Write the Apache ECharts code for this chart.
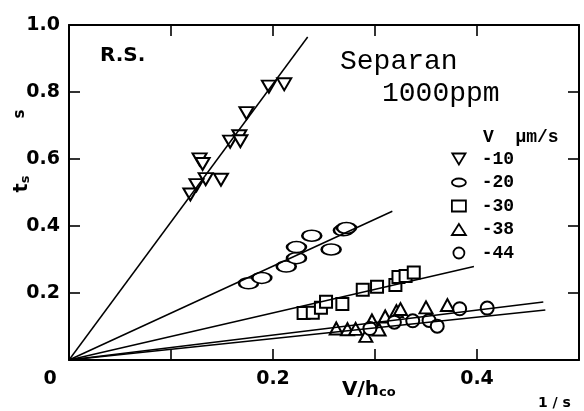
<!DOCTYPE html>
<html>
<head>
<meta charset="utf-8">
<script src="https://cdn.jsdelivr.net/npm/echarts@6/dist/echarts.min.js"></script>
<style>
  html, body { margin: 0; padding: 0; background: #fff; }
  #chart { width: 584px; height: 411px; }
</style>
</head>
<body>
<div id="chart"></div>
<script>
// values (V/h_co in 1/s, t_s in s)
const seriesNames = ['-10', '-20', '-30', '-38', '-44'];

const v10X = [0.196, 0.211, 0.174, 0.167, 0.158, 0.168, 0.128, 0.131, 0.134, 0.149, 0.125, 0.119];
const v10Y = [0.816, 0.823, 0.737, 0.668, 0.652, 0.653, 0.599, 0.585, 0.540, 0.538, 0.522, 0.494];

const v20X = [0.176, 0.189, 0.213, 0.223, 0.223, 0.238, 0.257, 0.269, 0.272];
const v20Y = [0.229, 0.245, 0.279, 0.304, 0.337, 0.371, 0.330, 0.387, 0.394];

const v30X = [0.230, 0.239, 0.247, 0.252, 0.268, 0.288, 0.302, 0.320, 0.323, 0.330, 0.338];
const v30Y = [0.140, 0.141, 0.156, 0.174, 0.167, 0.210, 0.219, 0.224, 0.248, 0.251, 0.261];

const v38X = [0.262, 0.273, 0.281, 0.291, 0.297, 0.304, 0.310, 0.321, 0.325, 0.350, 0.371];
const v38Y = [0.094, 0.092, 0.093, 0.072, 0.118, 0.091, 0.130, 0.146, 0.152, 0.157, 0.164];

const v44X = [0.295, 0.319, 0.337, 0.353, 0.361, 0.383, 0.410];
const v44Y = [0.094, 0.113, 0.117, 0.118, 0.101, 0.153, 0.155];

// fitted lines, all drawn from the origin to these end points
const fitEndX = [0.234, 0.317, 0.397, 0.465, 0.467];
const fitEndY = [0.964, 0.444, 0.279, 0.173, 0.149];

const xTicks = [0, 0.1, 0.2, 0.3, 0.4, 0.5];
const xLabels = ['0', '', '0.2', '', '0.4', ''];
const yLabels = ['', '0.2', '0.4', '0.6', '0.8', '1.0'];

const pointsX = [v10X, v20X, v30X, v38X, v44X];
const pointsY = [v10Y, v20Y, v30Y, v38Y, v44Y];

const downTri = 'path://M0,0L12,0L6,10Z';
const ellipse = 'path://M0,4A7,4,0,1,0,14,4A7,4,0,1,0,0,4Z';
const symbols = [downTri, 'circle', 'rect', 'triangle', 'circle'];
const symbolSizes = [[14, 12], [19, 11], [12, 12], [13, 12], 13];
const legendIcons = [downTri, ellipse, 'rect', 'triangle', 'circle'];

const boldSans = '"DejaVu Sans"';
const mono = '"Liberation Mono"';

function frameAxis(type, position, showLabels) {
    const axis = {
        type: 'value',
        position: position,
        min: 0,
        max: type === 'x' ? 0.5 : 1.0,
        interval: type === 'x' ? 0.1 : 0.2,
        splitLine: {show: false},
        axisLine: {show: true, onZero: false, lineStyle: {color: '#000', width: 2}},
        axisTick: {show: true, inside: true, length: 11, lineStyle: {color: '#000', width: 1.6}},
        axisLabel: {show: false},
    };
    if (showLabels && type === 'x') {
        axis.axisLabel = {
            show: true,
            margin: 10,
            color: '#000',
            fontFamily: boldSans,
            fontWeight: 'bold',
            fontSize: 19,
            formatter: (v) => {
                const label = xLabels[xTicks.findIndex(t => Math.abs(t - v) < 1e-6)] || '';
                return v === 0 ? '{z|' + label + '}' : label;
            },
            rich: {
                z: {fontFamily: boldSans, fontWeight: 'bold', fontSize: 19, color: '#000', padding: [0, 38, 0, 0]},
            },
        };
    }
    if (showLabels && type === 'y') {
        axis.axisLabel = {
            show: true,
            margin: 9,
            color: '#000',
            fontFamily: boldSans,
            fontWeight: 'bold',
            fontSize: 19,
            formatter: (v) => yLabels[Math.round(v / 0.2)] || '',
        };
    }
    return axis;
}

function buildSeries() {
    const series = [];
    // lines first so the white markers break them
    seriesNames.forEach((name, i) => {
        series.push({
            name: 'fit ' + name,
            type: 'line',
            xAxisIndex: 0,
            yAxisIndex: 0,
            data: [[0, 0], [fitEndX[i], fitEndY[i]]],
            symbol: 'none',
            silent: true,
            lineStyle: {color: '#000', width: 1.5},
        });
    });
    seriesNames.forEach((name, i) => {
        series.push({
            name: name,
            type: 'scatter',
            xAxisIndex: 0,
            yAxisIndex: 0,
            data: pointsX[i].map((x, k) => [x, pointsY[i][k]]),
            symbol: symbols[i],
            symbolSize: symbolSizes[i],
            itemStyle: {color: '#fff', borderColor: '#000', borderWidth: 2, opacity: 1},
        });
    });
    return series;
}

function getOption() {
    return {
        animation: false,
        backgroundColor: '#fff',
        grid: {left: 69, right: 5, top: 25, bottom: 51, containLabel: false},
        xAxis: [frameAxis('x', 'bottom', true), frameAxis('x', 'top', false)],
        yAxis: [frameAxis('y', 'left', true), frameAxis('y', 'right', false)],
        legend: {
            orient: 'vertical',
            left: 451,
            top: 150,
            padding: 0,
            itemWidth: 14,
            itemHeight: 11,
            itemGap: 5.5,
            data: seriesNames.map((n, i) => ({name: n, icon: legendIcons[i]})),
            formatter: (name) => ' ' + name,
            itemStyle: {color: '#fff', borderColor: '#000', borderWidth: 1.8},
            textStyle: {color: '#000', fontFamily: mono, fontWeight: 'bold', fontSize: 18, lineHeight: 16},
        },
        graphic: [
            {type: 'text', left: 100, top: 46, style: {text: 'R.S.', font: 'bold 20px ' + boldSans, fill: '#000'}},
            {type: 'text', left: 340, top: 48, style: {text: 'Separan', font: '28px ' + mono, fill: '#000'}},
            {type: 'text', left: 382, top: 80, style: {text: '1000ppm', font: '28px ' + mono, fill: '#000'}},
            {type: 'text', left: 483, top: 128, style: {text: 'V  µm/s', font: 'bold 18px ' + mono, fill: '#000'}},
            {
                type: 'text', left: 342, top: 380,
                style: {
                    text: '{a|V/h}{b|co}',
                    rich: {
                        a: {fontFamily: boldSans, fontWeight: 'bold', fontSize: 20, fill: '#000'},
                        b: {fontFamily: boldSans, fontWeight: 'bold', fontSize: 13, fill: '#000', padding: [6, 0, 0, 0]},
                    },
                },
            },
            {type: 'text', left: 538, top: 396, style: {text: '1 / s', font: 'bold 14px ' + boldSans, fill: '#000'}},
            {
                type: 'text', x: 22, y: 184, rotation: Math.PI / 2,
                style: {
                    text: '{a|t}{b|s}',
                    align: 'center',
                    verticalAlign: 'middle',
                    rich: {
                        a: {fontFamily: boldSans, fontWeight: 'bold', fontSize: 19, fill: '#000'},
                        b: {fontFamily: boldSans, fontWeight: 'bold', fontSize: 13, fill: '#000', padding: [7, 0, 0, 0]},
                    },
                },
            },
            {
                type: 'text', x: 20, y: 114, rotation: Math.PI / 2,
                style: {text: 's', font: 'bold 15px ' + boldSans, fill: '#000', align: 'center', verticalAlign: 'middle'},
            },
        ],
        series: buildSeries(),
    };
}

function loadChart() {
    const chart = echarts.init(document.getElementById('chart'));
    chart.setOption(getOption());
    window.addEventListener('resize', () => {
        chart.resize();
    });
}

loadChart();
</script>
</body>
</html>
